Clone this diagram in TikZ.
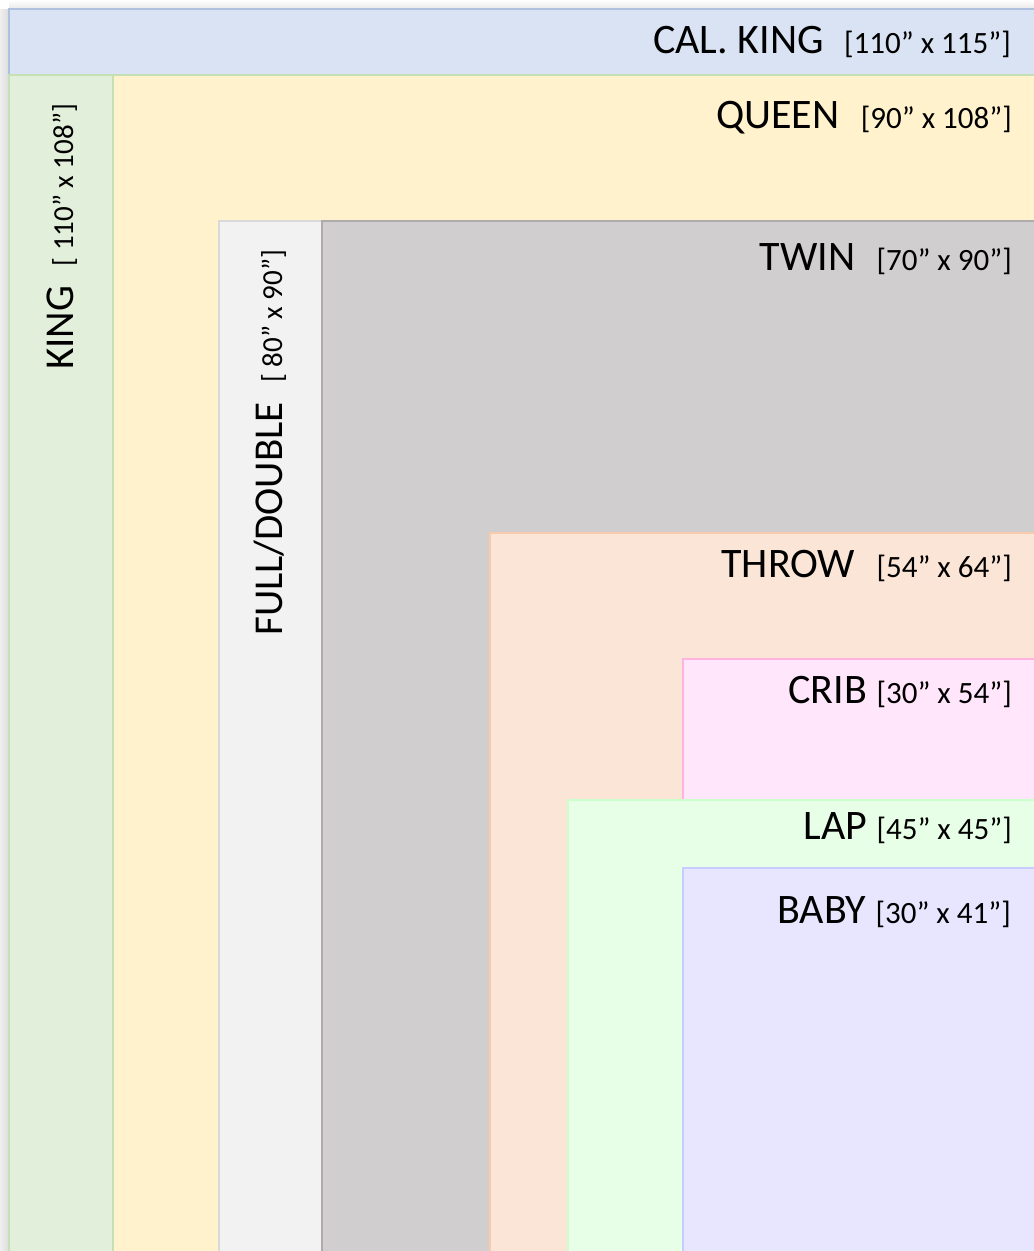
\documentclass[tikz,border=0pt]{standalone}
\usepackage{fontspec}
\setmainfont{Carlito}
\definecolor{calfill}{HTML}{DAE3F3}\definecolor{caldraw}{HTML}{AFC0DE}
\definecolor{kingfill}{HTML}{E2EFDA}\definecolor{kingdraw}{HTML}{C5E0B4}
\definecolor{queenfill}{HTML}{FFF2CC}
\definecolor{fullfill}{HTML}{F2F2F2}\definecolor{fulldraw}{HTML}{D9D9D9}
\definecolor{twinfill}{HTML}{D0CECE}\definecolor{twindraw}{HTML}{AFABAB}
\definecolor{throwfill}{HTML}{FBE5D6}\definecolor{throwdraw}{HTML}{F8CBAD}
\definecolor{cribfill}{HTML}{FFE6FA}\definecolor{cribdraw}{HTML}{FFB3E0}
\definecolor{lapfill}{HTML}{E6FFE6}\definecolor{lapdraw}{HTML}{CCFFCC}
\definecolor{babyfill}{HTML}{E8E6FF}\definecolor{babydraw}{HTML}{C8CDFF}
\begin{document}
\begin{tikzpicture}[x=1pt,y=-1pt,
  box/.style={line width=1.5pt},
  lab/.style={anchor=base east, inner sep=0pt, font=\fontsize{42}{42}\selectfont},
  dim/.style={anchor=base east, inner sep=0pt, font=\fontsize{31}{31}\selectfont},
  vlab/.style={rotate=90, anchor=base west, inner sep=0pt, font=\fontsize{41}{41}\selectfont},
  vdim/.style={rotate=90, anchor=base west, inner sep=0pt, font=\fontsize{29}{29}\selectfont}]
\useasboundingbox (0,0) rectangle (1034,1251);
\clip (0,0) rectangle (1034,1251);
\fill[white] (0,0) rectangle (1034,1251);
\shade[left color=gray!12, right color=gray!28] (0,9) rectangle (9,1251);
\shade[top color=white, bottom color=gray!18] (9,0) rectangle (1034,9);
% rectangles
\draw[box, fill=calfill, draw=caldraw] (9,9) rectangle (1045,75);
\draw[box, fill=kingfill, draw=kingdraw] (9,75) rectangle (1045,1262);
\draw[box, fill=queenfill, draw=kingdraw] (113,75) rectangle (1045,1262);
\draw[box, fill=fullfill, draw=fulldraw] (219,221) rectangle (1045,1262);
\draw[box, fill=twinfill, draw=twindraw] (322,221) rectangle (1045,1262);
\draw[box, fill=throwfill, draw=throwdraw] (490,533) rectangle (1045,1262);
\draw[box, fill=cribfill, draw=cribdraw] (683,659) rectangle (1045,1262);
\draw[box, fill=lapfill, draw=lapdraw] (568,800) rectangle (1045,1262);
\draw[box, fill=babyfill, draw=babydraw] (683,868) rectangle (1045,1262);
% labels
\node[dim] (calkingd) at (1011,53) {[110” x 115”]};
\node[lab] (calking) at ([xshift=-20pt]calkingd.base west) {CAL. KING};
\node[dim] (queend) at (1012,128) {[90” x 108”]};
\node[lab] (queen) at ([xshift=-21pt]queend.base west) {QUEEN};
\node[dim] (twind) at (1012,270) {[70” x 90”]};
\node[lab] (twin) at ([xshift=-21pt]twind.base west) {TWIN};
\node[dim] (throwd) at (1012,577) {[54” x 64”]};
\node[lab] (throw) at ([xshift=-21pt]throwd.base west) {THROW};
\node[dim] (cribd) at (1012,703) {[30” x 54”]};
\node[lab] (crib) at ([xshift=-9pt]cribd.base west) {CRIB};
\node[dim] (lapd) at (1012,839) {[45” x 45”]};
\node[lab] (lap) at ([xshift=-9pt]lapd.base west) {LAP};
\node[dim] (babyd) at (1011,923) {[30” x 41”]};
\node[lab] (baby) at ([xshift=-9pt]babyd.base west) {BABY};
% vertical labels
\node[vlab] (king) at (73,370) {KING};
\node[vdim] (kingd) at (king.base east) {\hspace{19pt}[ 110” x 108”]};
\node[vlab] (full) at (282,636) {FULL/DOUBLE};
\node[vdim] (fulld) at (full.base east) {\hspace{19pt}[ 80” x 90”]};
\end{tikzpicture}
\end{document}
